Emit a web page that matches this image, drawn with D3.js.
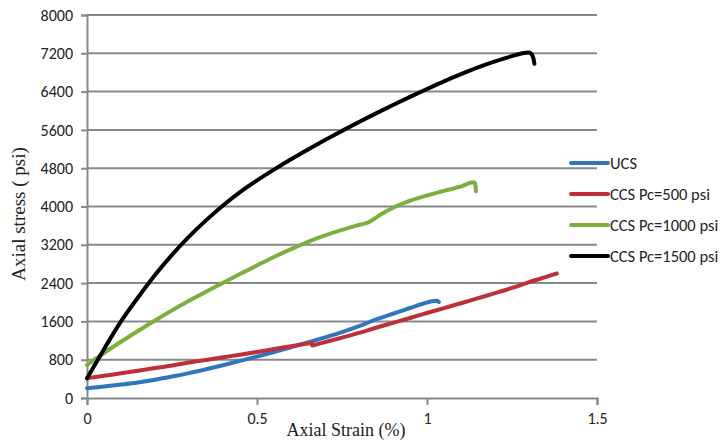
<!DOCTYPE html>
<html>
<head>
<meta charset="utf-8">
<script src="https://cdn.jsdelivr.net/npm/d3@7"></script>
<style>
  html, body { margin: 0; padding: 0; background: #fff; }
  svg { display: block; }
</style>
</head>
<body>
<svg id="chart" width="728" height="441"></svg>
<script>
// Stress-strain curves: [axial strain (%), axial stress (psi)]
const ucs = [[0,203],[0.05,240],[0.1,280],[0.15,325],[0.2,382],[0.25,448],[0.3,520],[0.35,600],[0.4,685],[0.45,775],[0.5,865],[0.55,960],[0.6,1060],[0.65,1160],[0.7,1265],[0.75,1375],[0.8,1500],[0.85,1640],[0.9,1760],[0.95,1880],[1.0,1995],[1.02,2028],[1.03,2030],[1.035,2005]];
const ccs500 = [[0,415],[0.05,465],[0.1,515],[0.15,570],[0.2,625],[0.25,680],[0.3,740],[0.35,795],[0.4,850],[0.45,905],[0.5,962],[0.55,1022],[0.6,1082],[0.65,1140],[0.66,1150],[0.662,1095],[0.675,1120],[0.7,1168],[0.75,1262],[0.8,1360],[0.85,1468],[0.9,1570],[0.95,1672],[1.0,1775],[1.05,1878],[1.1,1980],[1.15,2085],[1.2,2190],[1.25,2300],[1.3,2420],[1.35,2530],[1.382,2600]];
const ccs1000 = [[0,690],[0.05,940],[0.1,1175],[0.15,1400],[0.2,1620],[0.25,1830],[0.3,2030],[0.35,2220],[0.4,2405],[0.45,2590],[0.5,2770],[0.55,2945],[0.6,3110],[0.65,3260],[0.7,3395],[0.75,3510],[0.8,3615],[0.83,3675],[0.845,3745],[0.87,3860],[0.9,3975],[0.95,4120],[1.0,4230],[1.05,4325],[1.1,4420],[1.136,4505],[1.14,4500],[1.143,4420],[1.144,4320]];
const ccs1500 = [[0,410],[0.05,1020],[0.1,1600],[0.15,2100],[0.2,2570],[0.25,2990],[0.3,3370],[0.35,3710],[0.4,4020],[0.45,4300],[0.5,4545],[0.55,4770],[0.6,4985],[0.65,5190],[0.7,5390],[0.75,5580],[0.8,5765],[0.85,5945],[0.9,6120],[0.95,6290],[1.0,6455],[1.05,6615],[1.1,6765],[1.15,6905],[1.2,7030],[1.25,7140],[1.29,7210],[1.3,7215],[1.308,7180],[1.313,7090],[1.316,6980]];

const seriesNames = ["UCS", "CCS Pc=500 psi", "CCS Pc=1000 psi", "CCS Pc=1500 psi"];
const seriesColors = ["#2f76bd", "#be2f3a", "#7dae3e", "#000000"];
const seriesData = [ucs, ccs500, ccs1000, ccs1500];

const xTicks = [0, 0.5, 1, 1.5];
const yTicks = [0, 800, 1600, 2400, 3200, 4000, 4800, 5600, 6400, 7200, 8000];

const svg = d3.select("#chart");
const plotLeft = 87, plotRight = 597, plotTop = 15, plotBottom = 398;

const x = d3.scaleLinear().domain([0, 1.5]).range([plotLeft, plotRight]);
const y = d3.scaleLinear().domain([0, 8000]).range([plotBottom, plotTop]);

const gridColor = "#878a8c";
const tickFont = "Carlito, Lato, 'Liberation Sans', sans-serif";
const titleFont = "'Liberation Serif', 'DejaVu Serif', serif";

// horizontal gridlines
svg.append("g")
  .selectAll("line")
  .data(yTicks.filter(d => d > 0))
  .join("line")
  .attr("x1", plotLeft).attr("x2", plotRight)
  .attr("y1", d => y(d)).attr("y2", d => y(d))
  .attr("stroke", gridColor).attr("stroke-width", 2);

// y axis
const yAxis = svg.append("g")
  .attr("transform", `translate(${plotLeft},0)`)
  .call(d3.axisLeft(y).tickValues(yTicks).tickSize(6).tickPadding(8).tickFormat(d3.format("d")));
yAxis.select(".domain").attr("stroke", gridColor).attr("stroke-width", 2);
yAxis.selectAll(".tick line").attr("stroke", gridColor).attr("stroke-width", 2);
yAxis.selectAll(".tick text")
  .attr("font-family", tickFont).attr("font-size", 16).attr("fill", "#222");

// x axis
const xAxis = svg.append("g")
  .attr("transform", `translate(0,${plotBottom})`)
  .call(d3.axisBottom(x).tickValues(xTicks).tickSize(7).tickPadding(8).tickFormat(d => String(d)));
xAxis.select(".domain").attr("stroke", gridColor).attr("stroke-width", 2);
xAxis.selectAll(".tick line").attr("stroke", gridColor).attr("stroke-width", 2);
xAxis.selectAll(".tick text")
  .attr("font-family", tickFont).attr("font-size", 16).attr("fill", "#222");

// curves
const line = d3.line()
  .x(d => x(d[0]))
  .y(d => y(d[1]))
  .curve(d3.curveMonotoneX);

svg.append("g")
  .selectAll("path")
  .data(seriesData)
  .join("path")
  .attr("d", d => line(d))
  .attr("fill", "none")
  .attr("stroke", (d, i) => seriesColors[i])
  .attr("stroke-width", 4)
  .attr("stroke-linecap", "round")
  .attr("stroke-linejoin", "round");

// legend
const legend = svg.append("g")
  .selectAll("g")
  .data(seriesNames)
  .join("g")
  .attr("transform", (d, i) => `translate(571,${163 + i * 31})`);
legend.append("line")
  .attr("x1", 0).attr("x2", 37)
  .attr("stroke", (d, i) => seriesColors[i])
  .attr("stroke-width", 4)
  .attr("stroke-linecap", "round");
legend.append("text")
  .attr("x", 39).attr("dy", "0.35em")
  .attr("font-family", tickFont).attr("font-size", 16.5).attr("fill", "#222")
  .text(d => d);

// axis titles
svg.append("text")
  .attr("x", 346).attr("y", 436)
  .attr("text-anchor", "middle")
  .attr("font-family", titleFont).attr("font-size", 18).attr("fill", "#222")
  .text("Axial Strain (%)");

svg.append("text")
  .attr("transform", "translate(25,214) rotate(-90)")
  .attr("text-anchor", "middle")
  .attr("font-family", titleFont).attr("font-size", 19).attr("fill", "#222")
  .text("Axial stress ( psi)");
</script>
</body>
</html>
